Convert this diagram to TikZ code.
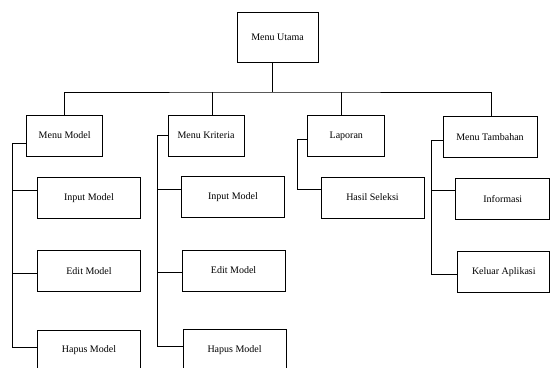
\documentclass[tikz,border=0pt]{standalone}
\usepackage{fontspec}
\setmainfont{Liberation Serif}
\usetikzlibrary{positioning}

\begin{document}
\begin{tikzpicture}[x=1pt, y=-1pt, line width=0.8pt,
    menubox/.style={draw, inner sep=0pt, font=\fontsize{10}{12}\selectfont}]
  \useasboundingbox (0,0) rectangle (551,367);

  % Nodes
  \node[menubox, minimum width=81pt, minimum height=50pt] (top) at (277.5,37) {Menu Utama};

  \node[menubox, minimum width=76pt, minimum height=41pt] (mm) at (64.7,135.5) {Menu Model};
  \node[menubox, minimum width=76pt, minimum height=41pt] (mk) at (206,135.5) {Menu Kriteria};
  \node[menubox, minimum width=77pt, minimum height=41pt] (lap) at (346.3,135.8) {Laporan};
  \node[menubox, minimum width=94pt, minimum height=41pt] (mt) at (490,137.3) {Menu Tambahan};

  \node[menubox, minimum width=103pt, minimum height=41pt] (im1) at (89,197.8) {Input Model};
  \node[menubox, minimum width=103pt, minimum height=41pt] (em1) at (89,271.2) {Edit Model};
  \node[menubox, minimum width=103pt, minimum height=41pt] (hm1) at (89,350.5) {Hapus Model};

  \node[menubox, minimum width=103pt, minimum height=41pt] (im2) at (233,196.8) {Input Model};
  \node[menubox, minimum width=103pt, minimum height=41pt] (em2) at (233.6,270.5) {Edit Model};
  \node[menubox, minimum width=103pt, minimum height=41pt] (hm2) at (234.6,349.8) {Hapus Model};

  \node[menubox, minimum width=103pt, minimum height=41pt] (hs) at (372.5,197.5) {Hasil Seleksi};

  \node[menubox, minimum width=94pt, minimum height=41pt] (inf) at (502.8,198.8) {Informasi};
  \node[menubox, minimum width=92pt, minimum height=41pt] (ka) at (503.8,272.2) {Keluar Aplikasi};

  % Top level bus
  \coordinate (bus) at (272,92);
  \draw ([xshift=-5.5pt]top.south) -- (bus);
  \draw (mm.north) |- (bus) -| ([xshift=1.7pt]mt.north);
  \draw ([xshift=6pt]mk.north) -- ++(0,-23);
  \draw ([xshift=-4.6pt]lap.north) -- ++(0,-23);

  % Menu Model
  \draw ([yshift=-7.5pt]mm.west) -- ++(-14.4,0) |- ([yshift=2.8pt]hm1.west);
  \draw ([yshift=7.8pt]im1.west) -- ++(-25,0);
  \draw ([yshift=-2.5pt]em1.west) -- ++(-25,0);

  % Menu Kriteria
  \draw (mk.west) -- ++(-10.7,0) |- ([yshift=3.1pt]hm2.west);
  \draw ([yshift=7.5pt]im2.west) -- ++(-24.4,0);
  \draw ([yshift=-2.2pt]em2.west) -- ++(-25,0);

  % Laporan
  \draw ([yshift=-3.5pt]lap.west) -- ++(-9.7,0) |- ([yshift=8.2pt]hs.west);

  % Menu Tambahan
  \draw ([yshift=-2.7pt]mt.west) -- ++(-11.3,0) |- ([yshift=-2.1pt]ka.west);
  \draw ([yshift=8.1pt]inf.west) -- ++(-24,0);
\end{tikzpicture}
\end{document}
